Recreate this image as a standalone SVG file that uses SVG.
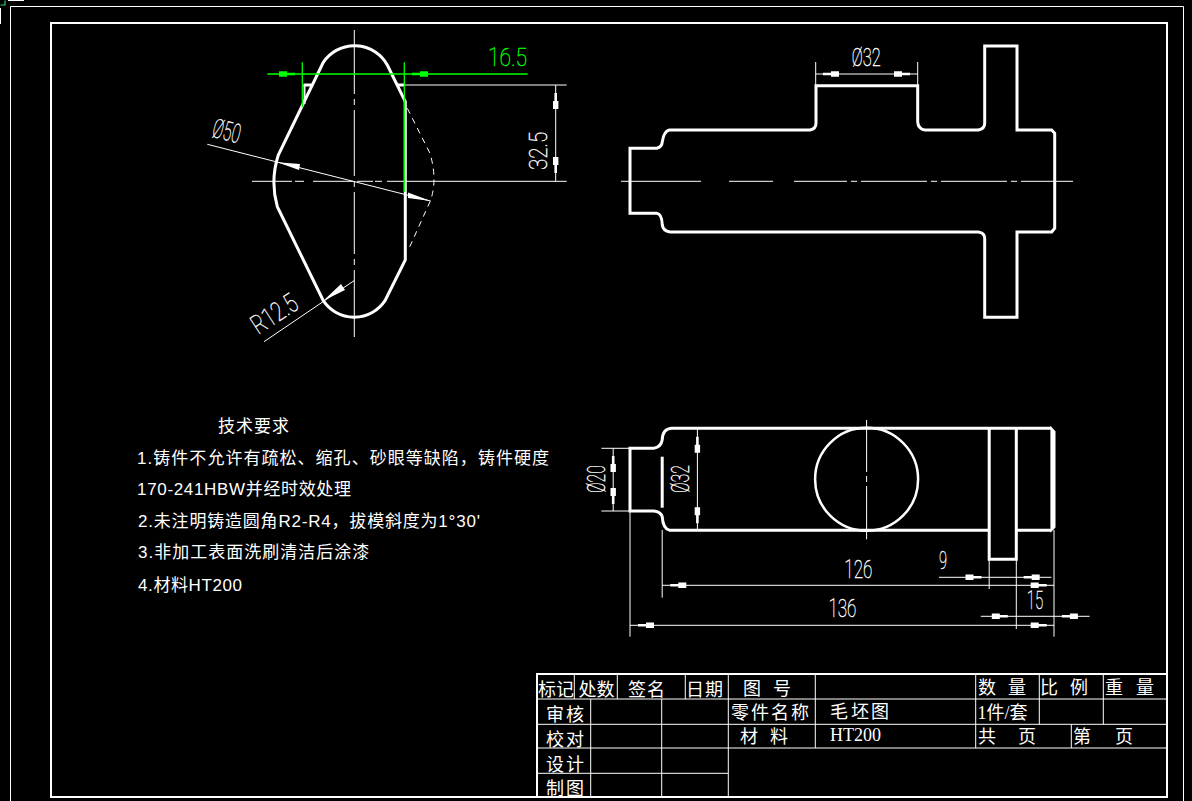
<svg xmlns="http://www.w3.org/2000/svg" xmlns:xlink="http://www.w3.org/1999/xlink" width="1192" height="801" viewBox="0 0 1192 801">
<style>
.o{fill:none;stroke:#fff;stroke-width:3}
.m{fill:none;stroke:#fff;stroke-width:2}
.k{fill:none;stroke:#fff;stroke-width:2.5}
.t{fill:none;stroke:#fff;stroke-width:1}
.g{fill:none;stroke:#0f0;stroke-width:1.3}
.d{font-family:"Roboto","Liberation Sans",sans-serif;font-size:26.5px;fill:#fff;stroke:#fff;stroke-width:.4;font-weight:100}
.dg{fill:#0f0;stroke:#0f0}
.c{font-family:"Noto Sans CJK SC",sans-serif;font-size:18px;fill:#fff}
.r{font-family:"Liberation Serif","Noto Sans CJK SC",serif;font-size:18px;fill:#fff}
.n{font-family:"Liberation Sans","Noto Sans CJK SC",sans-serif;font-size:17px;letter-spacing:1px;fill:#fff}
</style>
<defs><path id="ah" d="M0-1.3H-8V-2.7H-16V2.7H-8V1.3H0Z"/></defs>
<rect width="1192" height="801" fill="#000"/>
<g id="frame">
<path class="t" d="M.5 24V8M8 .5H24"/>
<path d="M.5 5H5V.5" fill="none" stroke="#2dcc70" stroke-width="1.2"/>
<path class="t" stroke-width="1.2" d="M10.5 801V6.5H1183.5V801"/>
<rect x="51" y="23" width="1116" height="774" class="m"/>
</g>
<g id="view-profile">
<path class="o" d="M323.3 62.3A37.5 37.5 0 0 1 387.3 65L405.3 101.7V260L385 300.7A37 37 0 0 1 323.3 300.7L277.3 206.7Q270 181 278.3 155L323.3 62.3Z"/>
<path class="o" d="M303.5 85H311.5M396.7 85H405"/>
<path class="m" d="M304.5 85V104"/>
<path class="t" stroke-dasharray="6 5" d="M407.3 108.3L430 153.3Q438 181 430 201.7L408.3 250"/>
<path class="t" d="M354.3 30V94M354.3 99V105M354.3 110V176M354.3 181V187M354.3 192V254M354.3 259V265M354.3 270V337"/>
<path class="t" d="M252 181.3H292M295 181.3H304M313 181.3H353M357 181.3H373M375 181.3H382M387 181.3H566.7"/>
</g>
<g id="view-front">
<path class="o" d="M630 148.3H656.7Q662 147 662.3 141.7Q664 131 669.3 130H810Q816 129 816 123.3V85.7H917.7V121.7Q918 129 925 130H978.3Q984.7 129 984.7 123.3V46H1017V130H1051.7L1054.7 133.3V228.3L1051.7 232H1017V317.3H984.7V238.3Q984.7 233 978.3 232H670Q663 231 662.3 225Q662 214 656.7 213.3H630Z"/>
<path class="t" d="M621 181.3H701M729 181.3H773M794 181.3H847M851 181.3H857M861 181.3H927M931 181.3H937M941 181.3H1007M1011 181.3H1017M1021 181.3H1073"/>
</g>
<g id="view-top">
<path class="o" d="M1051.4 428.3H671.4Q662.5 429 662.2 440Q661 447 653.8 448.3H630V511H653.8Q661 512 662.2 516.7Q663 529 669.7 530.3H989.2V428.3M989.2 530.3V559.3H1016.3V428.3M1016.3 530.3H1051.4"/>
<path d="M1051.4 428.3L1054.5 431.7V527L1051.4 530.3Z" fill="#fff" stroke="#fff" stroke-width="2"/>
<path class="o" d="M662.2 456.7V507.7"/>
<circle class="k" cx="866.6" cy="479.3" r="51.5"/>
<path class="t" d="M866.6 420V472M866.6 476V482M866.6 486V539.3"/>
</g>
<g id="connectors">
<path class="g" d="M302.3 62.3V107.3M404.3 62.3V191.7M267.3 74H527.7"/>
<use xlink:href="#ah" href="#ah" fill="#0f0" transform="translate(295 74)"/>
<use xlink:href="#ah" href="#ah" fill="#0f0" transform="translate(412 74) rotate(180)"/>
<path class="t" d="M405 85H566.7M555.7 85V181.3M207.3 144.3L430.7 201M264 341.7L354 280.7"/>
<use xlink:href="#ah" href="#ah" fill="#fff" transform="translate(555.7 93) rotate(-90)"/>
<use xlink:href="#ah" href="#ah" fill="#fff" transform="translate(555.7 173) rotate(90)"/>
<path fill="#fff" d="M277.3 162.3L300 164L299 170ZM430.7 201L408 192.5L408 198ZM323.3 300.7L341 284L345 290Z"/>
<path class="t" d="M815.7 62V85M917.7 62V85M815.7 74H917.7"/>
<use xlink:href="#ah" href="#ah" fill="#fff" transform="translate(823 74) rotate(180)"/>
<use xlink:href="#ah" href="#ah" fill="#fff" transform="translate(910 74)"/>
<path class="t" d="M601.4 448.3H630M601.4 511H630M613.2 448.3V511M697.4 428.3V530.3"/>
<use xlink:href="#ah" href="#ah" fill="#fff" transform="translate(613.2 456) rotate(-90)"/>
<use xlink:href="#ah" href="#ah" fill="#fff" transform="translate(613.2 504) rotate(90)"/>
<use xlink:href="#ah" href="#ah" fill="#fff" transform="translate(697.4 436.7) rotate(-90)"/>
<use xlink:href="#ah" href="#ah" fill="#fff" transform="translate(697.4 523.3) rotate(90)"/>
<path class="t" d="M662.2 530V597.7M1054 530V636.7M630 511V636.7M989.2 559V589M1016.3 559V629M662.2 585.3H1054M630 625.3H1054M939 577.3H1051.4M980.8 616.3H1089.6"/>
<use xlink:href="#ah" href="#ah" fill="#fff" transform="translate(670.3 585.3) rotate(180)"/>
<use xlink:href="#ah" href="#ah" fill="#fff" transform="translate(1046.7 585.3)"/>
<use xlink:href="#ah" href="#ah" fill="#fff" transform="translate(638 625.3) rotate(180)"/>
<use xlink:href="#ah" href="#ah" fill="#fff" transform="translate(1046.7 625.3)"/>
<use xlink:href="#ah" href="#ah" fill="#fff" transform="translate(981.5 577.3)"/>
<use xlink:href="#ah" href="#ah" fill="#fff" transform="translate(1023.7 577.3) rotate(180)"/>
<use xlink:href="#ah" href="#ah" fill="#fff" transform="translate(1007.8 616.3)"/>
<use xlink:href="#ah" href="#ah" fill="#fff" transform="translate(1061.9 616.3) rotate(180)"/>
</g>
<g id="dimension-labels">
<text class="d dg" x="488" y="66" textLength="39" lengthAdjust="spacingAndGlyphs">16.5</text>
<text class="d" transform="translate(547.3 170) rotate(-90)" textLength="38.3" lengthAdjust="spacingAndGlyphs">32.5</text>
<text class="d" transform="translate(211 136.5) rotate(14)" textLength="28" lengthAdjust="spacingAndGlyphs">Ø50</text>
<text class="d" transform="translate(258.3 335) rotate(-33)" textLength="50" lengthAdjust="spacingAndGlyphs">R12.5</text>
<text class="d" x="851.7" y="66" textLength="29" lengthAdjust="spacingAndGlyphs">Ø32</text>
<text class="d" transform="translate(605 493) rotate(-90)" textLength="28" lengthAdjust="spacingAndGlyphs">Ø20</text>
<text class="d" transform="translate(689 493) rotate(-90)" textLength="28" lengthAdjust="spacingAndGlyphs">Ø32</text>
<text class="d" x="844.3" y="578.3" textLength="28" lengthAdjust="spacingAndGlyphs">126</text>
<text class="d" x="828.4" y="617.3" textLength="28" lengthAdjust="spacingAndGlyphs">136</text>
<text class="d" x="939" y="569" textLength="8" lengthAdjust="spacingAndGlyphs">9</text>
<text class="d" x="1026.8" y="609.3" textLength="16.5" lengthAdjust="spacingAndGlyphs">15</text>
</g>
<g id="technical-requirements">
<text class="n" x="218" y="432">技术要求</text>
<text class="n" x="137" y="464" textLength="413">1.铸件不允许有疏松、缩孔、砂眼等缺陷，铸件硬度</text>
<text class="n" x="137" y="495" textLength="215">170-241HBW并经时效处理</text>
<text class="n" x="138" y="526.7" textLength="343">2.未注明铸造圆角R2-R4，拔模斜度为1°30'</text>
<text class="n" x="138" y="558.3">3.非加工表面洗刷清洁后涂漆</text>
<text class="n" x="138" y="590.7" textLength="105">4.材料HT200</text>
</g>
<g id="title-block">
<path class="t" d="M537 699H1167M537 724.3H1167M537 748H1167M537 773.3H728.3M574.3 674V699M617.3 674V699M685.3 674V699M728.3 674V797M815.3 674V748M975.7 674V748M1039.3 674V724.3M1103.3 674V724.3M1071.3 724.3V748M590.7 699V797M661.7 699V797"/>
<path class="m" d="M537 797V674H1167"/>
<text class="c" x="538" y="696">标记</text>
<text class="c" x="578.5" y="696">处数</text>
<text class="c" x="628 647" y="696">签名</text>
<text class="c" x="686 705" y="696">日期</text>
<text class="c" x="743 773" y="695">图号</text>
<text class="c" x="546 566" y="721">审核</text>
<text class="c" x="546 566" y="746">校对</text>
<text class="c" x="546 566" y="770.5">设计</text>
<text class="c" x="546 566" y="795">制图</text>
<text class="c" x="731 751 771 791" y="719">零件名称</text>
<text class="c" x="830 851 871" y="718">毛坯图</text>
<text class="c" x="740 770" y="743">材料</text>
<text class="r" x="830" y="741">HT200</text>
<text class="c" x="978 1008" y="694">数量</text>
<text class="c" x="1040 1070" y="694">比例</text>
<text class="c" x="1105 1136" y="694">重量</text>
<text class="r" x="977.5" y="719">1件/套</text>
<text class="c" x="978 1018" y="743">共页</text>
<text class="c" x="1073 1115" y="743">第页</text>
</g>
</svg>
